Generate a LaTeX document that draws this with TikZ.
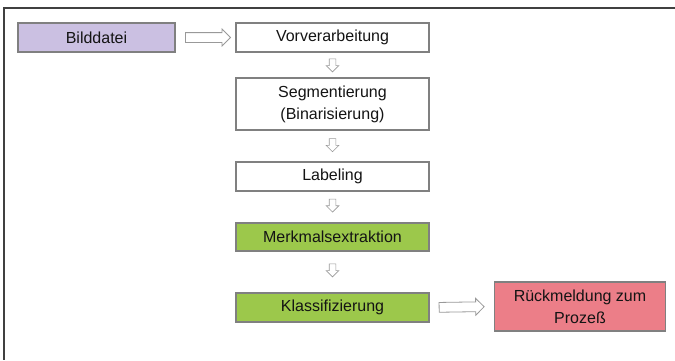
\documentclass[tikz,border=0pt]{standalone}
\usepackage{fontspec}
\setmainfont{Liberation Sans}
\usepackage{tikz}
\usetikzlibrary{shapes,shapes.arrows,arrows.meta}
\definecolor{boxline}{RGB}{128,128,128}
\definecolor{lila}{RGB}{203,192,226}
\definecolor{gruen}{RGB}{156,200,75}
\definecolor{rosa}{RGB}{236,126,136}
\definecolor{schrift}{RGB}{20,20,20}
\tikzset{
  step box/.style={ draw=boxline, line width=1.2pt, fill=white, minimum width=193pt, minimum height=29pt,
    inner sep=2pt, align=center, text=schrift, font=\fontsize{16}{22}\selectfont }
}
\tikzset{
  bigarrow/.style={ single arrow, draw=boxline!80, fill=white, line width=0.8pt, inner xsep=0pt, inner ysep=4.5pt,
    minimum height=45pt, single arrow head extend=3.5pt, single arrow head indent=0pt }
}
\tikzset{
  smallarrow/.style={ bigarrow, line width=0.6pt, inner ysep=3pt, minimum height=13pt, single arrow head extend=3pt }
}

\begin{document}
\begin{tikzpicture}[x=1pt, y=-1pt]
      \useasboundingbox (0,0) rectangle (675,360);
      \draw[line width=2pt, black!75] (675,7.5) -- (3.5,7.5) -- (3.5,360);

      \node[step box, fill=lila, minimum width=157pt] (bild) at (96.5, 37.5) {Bilddatei};
      \node[step box] (vor) at (332.5, 37.5) {Vorverarbeitung};
      \node[step box, minimum height=52pt] (seg) at (332.5, 104) {Segmentierung\\(Binarisierung)};
      \node[step box] (lab) at (332.5, 176.5) {Labeling};
      \node[step box, fill=gruen, minimum height=28pt] (merk) at (332.5, 237) {Merkmalsextraktion};
      \node[step box, fill=gruen] (klass) at (332.5, 307.5) {Klassifizierung};
      \node[step box, fill=rosa, minimum width=171pt, minimum height=49pt] (rueck) at (580, 306.5) {Rückmeldung zum\\Prozeß};

      \path (bild.east) -- node[bigarrow, midway, sloped] {} (vor.west);
      \path (vor.south) -- node[smallarrow, pos=0.45, sloped] {} (seg.north);
      \path (seg.south) -- node[smallarrow, pos=0.42, sloped] {} (lab.north);
      \path (lab.south) -- node[smallarrow, pos=0.4, sloped] {} (merk.north);
      \path (merk.south) -- node[smallarrow, pos=0.42, sloped] {} (klass.north);
      \path (klass.east) -- node[bigarrow, pos=0.46, sloped] {} (rueck.west);
    \end{tikzpicture}
\end{document}
